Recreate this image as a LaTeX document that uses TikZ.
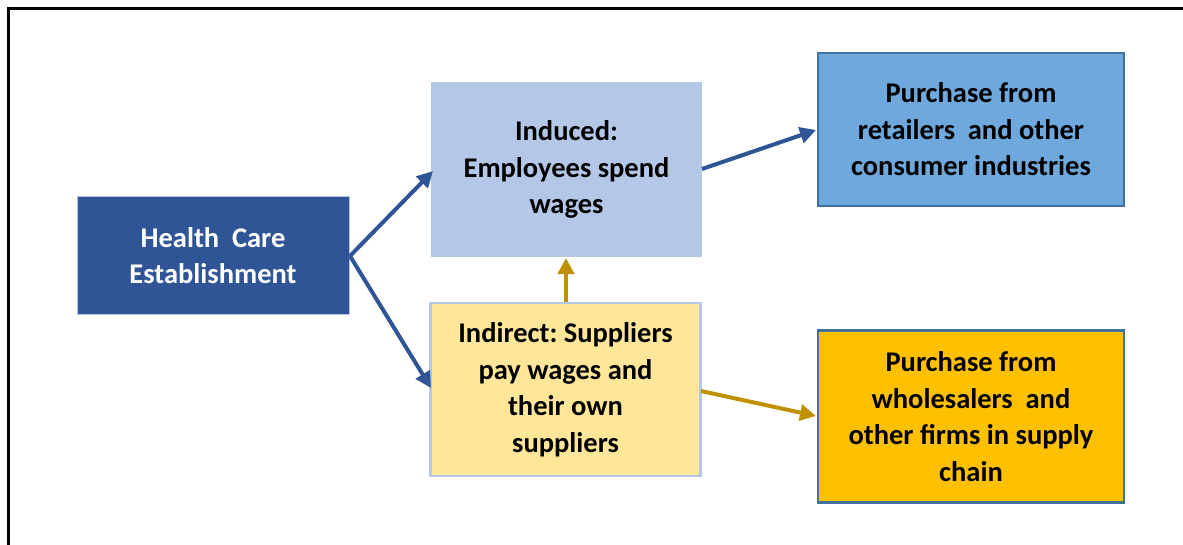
\documentclass[tikz,border=0pt]{standalone}
\usepackage{fontspec}
\setmainfont{Carlito}
\usetikzlibrary{arrows.meta}
\definecolor{hcblue}{HTML}{2F5597}
\definecolor{indblue}{HTML}{B4C7E7}
\definecolor{retblue}{HTML}{6FA8DC}
\definecolor{edgeblue}{HTML}{41719C}
\definecolor{indyel}{HTML}{FFE699}
\definecolor{gold}{HTML}{FFC000}
\definecolor{arrgold}{HTML}{BF9000}
\newcommand{\wsp}{\hspace{0.45em}}
\frenchspacing
\tikzset{
  box/.style={rectangle, align=center, inner sep=0pt, font=\fontsize{28.5}{36.5}\selectfont\bfseries},
  barrow/.style={draw=hcblue, line width=4pt, -{Triangle[length=16pt,width=16pt]}},
  garrow/.style={draw=arrgold, line width=4pt, -{Triangle[length=16pt,width=16pt]}},
}
\begin{document}
\begin{tikzpicture}[x=1pt,y=-1pt]
\useasboundingbox (0,0) rectangle (1183,544);
\draw[line width=3pt] (8,545) -- (8,8) -- (1184,8);
\node[box, fill=hcblue, draw=indblue, line width=0.8pt, text=white, minimum width=272pt, minimum height=118pt] (hc) at (213,255.5) {Health\wsp Care\\Establishment};
\node[box, fill=indblue, minimum width=271pt, minimum height=175pt] (ind) at (566.5,169.5) {Induced:\\Employees spend\\wages};
\node[box, fill=retblue, draw=edgeblue, line width=2.5pt, minimum width=306pt, minimum height=153pt] (ret) at (971,129.5) {Purchase from\\retailers\wsp and other\\consumer industries};
\node[box, fill=indyel, draw=indblue, line width=2.5pt, minimum width=270pt, minimum height=173pt] (indir) at (565.5,389.5) {Indirect: Suppliers\\pay wages and\\their own\\suppliers};
\node[box, fill=gold, draw=edgeblue, line width=2.5pt, minimum width=306pt, minimum height=172pt] (whl) at (971,416.5) {Purchase from\\wholesalers\wsp and\\other firms in supply\\chain};
\coordinate (hcr) at (350,256);
\draw[barrow] (hcr) -- (433,171);
\draw[barrow] (hcr) -- (431,388);
\draw[barrow] (702,169) -- (816,130);
\draw[garrow] (566,302) -- (566,258);
\draw[garrow] (701,391) -- (816,416);
\end{tikzpicture}
\end{document}
